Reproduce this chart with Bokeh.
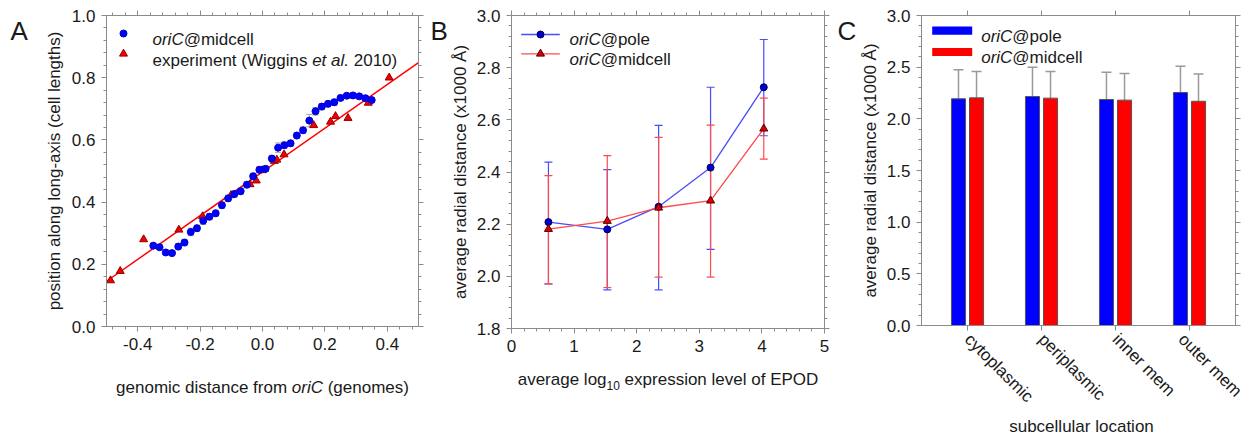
import math
from bokeh.plotting import figure
from bokeh.layouts import row
from bokeh.models import (ColumnDataSource, Whisker, TeeHead, Label, LinearAxis, FixedTicker,
                          PrintfTickFormatter, Range1d)
from bokeh.embed import file_html
from bokeh.resources import INLINE

# ---------------- data ----------------
# Panel A
a_x = [-0.35, -0.33, -0.31, -0.29, -0.27, -0.25, -0.23, -0.21, -0.19, -0.17, -0.15, -0.13,
       -0.11, -0.09, -0.07, -0.05, -0.03, -0.01, 0.01, 0.03, 0.05, 0.07, 0.09, 0.11,
       0.13, 0.15, 0.17, 0.19, 0.21, 0.23, 0.25, 0.27, 0.29, 0.31, 0.33, 0.35]
a_y = [0.260, 0.255, 0.238, 0.236, 0.257, 0.270, 0.304, 0.316, 0.340, 0.353, 0.364, 0.390,
       0.412, 0.426, 0.435, 0.456, 0.483, 0.504, 0.507, 0.540, 0.575, 0.583, 0.589, 0.614,
       0.631, 0.662, 0.692, 0.707, 0.716, 0.721, 0.735, 0.742, 0.743, 0.740, 0.734, 0.728]
a_err = [0.008, 0.008, 0.008, 0.008, 0.010, 0.010, 0.012, 0.010, 0.012, 0.010, 0.010, 0.010,
         0.010, 0.010, 0.010, 0.010, 0.010, 0.010, 0.008, 0.010, 0.015, 0.010, 0.010, 0.010,
         0.010, 0.020, 0.012, 0.010, 0.010, 0.010, 0.008, 0.008, 0.008, 0.008, 0.008, 0.008]
exp_x = [-0.487, -0.456, -0.381, -0.268, -0.192, -0.101, -0.040, -0.020, -0.001, 0.038,
         0.046, 0.069, 0.164, 0.218, 0.234, 0.274, 0.339, 0.406]
exp_y = [0.148, 0.178, 0.280, 0.311, 0.354, 0.422, 0.457, 0.469, 0.502, 0.532,
         0.536, 0.553, 0.647, 0.658, 0.676, 0.670, 0.719, 0.800]
fit_slope = 0.703
fit_intercept = 0.497

# Panel B
b_x = [0.59, 1.53, 2.35, 3.18, 4.03]
pole_y = [2.208, 2.180, 2.267, 2.417, 2.725]
pole_lo = [1.971, 1.948, 1.948, 2.103, 2.539]
pole_hi = [2.438, 2.409, 2.579, 2.725, 2.908]
mid_y = [2.181, 2.212, 2.263, 2.290, 2.566]
mid_lo = [1.971, 1.957, 1.997, 1.997, 2.449]
mid_hi = [2.386, 2.463, 2.533, 2.580, 2.683]

# Panel C
c_categories = ["cytoplasmic", "periplasmic", "inner mem", "outer mem"]
c_pos = [1, 2, 3, 4]
c_pole = [2.194, 2.216, 2.187, 2.255]
c_pole_err = [0.280, 0.284, 0.265, 0.253]
c_mid = [2.203, 2.200, 2.181, 2.170]
c_mid_err = [0.255, 0.258, 0.258, 0.263]

# tick labels
a_xticks = [-0.4, -0.2, 0.0, 0.2, 0.4]
a_yticks = [0.0, 0.2, 0.4, 0.6, 0.8, 1.0]
b_xticks = [0, 1, 2, 3, 4, 5]
b_yticks = [1.8, 2.0, 2.2, 2.4, 2.6, 2.8, 3.0]
c_yticks = [0.0, 0.5, 1.0, 1.5, 2.0, 2.5, 3.0]

# ---------------- styling helpers ----------------
FONT = "Liberation Sans"
TXT = "#1a1a1a"
AXC = "#8a8a8a"
PAGE_H = 436
FS = 17

W = {' ': 278, '(': 333, ')': 333, '.': 278, '@': 1015, '-': 333,
     'A': 667, 'B': 667, 'C': 722, 'D': 722, 'E': 667, 'O': 778, 'P': 667, 'W': 944,
     'a': 556, 'b': 556, 'c': 500, 'd': 556, 'e': 556, 'f': 278, 'g': 556, 'h': 556,
     'i': 222, 'j': 222, 'k': 500, 'l': 222, 'm': 833, 'n': 556, 'o': 556, 'p': 556,
     'q': 556, 'r': 333, 's': 500, 't': 278, 'u': 556, 'v': 500, 'w': 722, 'x': 500,
     'y': 500, 'z': 500}
for d in "0123456789":
    W[d] = 556


def text_w(s, size):
    return sum(W.get(ch, 556) for ch in s) * size / 1000.0


def minor(lo, hi, step):
    n = int(round((hi - lo) / step))
    return [round(lo + i * step, 6) for i in range(n + 1)]


def make_fig(F, x0, x1, xr, yr):
    """Figure whose frame covers the whole canvas; the plot box F (page px) maps xr/yr."""
    kx = (xr[1] - xr[0]) / (F["r"] - F["l"])
    ky = (yr[1] - yr[0]) / (F["b"] - F["t"])
    xs = xr[0] - (F["l"] - x0) * kx
    xe = xr[1] + (x1 - F["r"]) * kx
    ys = yr[0] - (PAGE_H - F["b"]) * ky
    ye = yr[1] + F["t"] * ky
    p = figure(width=x1 - x0, height=PAGE_H, x_range=Range1d(xs, xe), y_range=Range1d(ys, ye),
               output_backend="svg", toolbar_location=None, title=None,
               x_axis_location=None, y_axis_location=None, min_border=0,
               min_border_left=0, min_border_right=0, min_border_top=0, min_border_bottom=0,
               outline_line_color=None, background_fill_color="white",
               border_fill_color="white")
    p.grid.visible = False
    F["x0"] = x0
    return p


def add_axes(p, xr, yr, xticks, xminor, xfmt, yticks, yminor, yfmt, ylabel, ystand, xoverrides=None):
    common = dict(axis_line_color=AXC, major_tick_line_color=AXC, minor_tick_line_color=AXC,
                  major_tick_in=0, major_tick_out=5, minor_tick_in=0, minor_tick_out=3,
                  major_label_text_font=FONT, major_label_text_font_size="%dpx" % FS,
                  major_label_text_color=TXT, major_label_standoff=6)
    for side, loc in (("below", yr[0]), ("above", yr[1])):
        ax = LinearAxis(ticker=FixedTicker(ticks=xticks, minor_ticks=xminor),
                        formatter=PrintfTickFormatter(format=xfmt), fixed_location=loc,
                        bounds=xr, **common)
        if side == "above":
            ax.major_label_text_color = None
        elif xoverrides:
            ax.major_label_overrides = xoverrides
            ax.major_label_orientation = -math.pi / 4
        p.add_layout(ax, side)
    for side, loc in (("left", xr[0]), ("right", xr[1])):
        ax = LinearAxis(ticker=FixedTicker(ticks=yticks, minor_ticks=yminor),
                        formatter=PrintfTickFormatter(format=yfmt), fixed_location=loc,
                        bounds=yr, **common)
        if side == "right":
            ax.major_label_text_color = None
        else:
            ax.axis_label = ylabel
            ax.axis_label_text_font = FONT
            ax.axis_label_text_font_size = "%dpx" % FS
            ax.axis_label_text_font_style = "normal"
            ax.axis_label_text_color = TXT
            ax.axis_label_standoff = ystand
        p.add_layout(ax, side)


def add_label(p, F, text, px, py, size=FS, style="normal", align="left"):
    p.add_layout(Label(x=px - F["x0"], y=PAGE_H - py, x_units="screen", y_units="screen",
                       text=text, text_font=FONT, text_font_size="%spx" % size,
                       text_font_style=style, text_align=align,
                       text_baseline="alphabetic", text_color=TXT))


def rich(p, F, parts, px, py, anchor="left"):
    total = sum(text_w(t, s) for t, st, s, dy in parts)
    x = px - total / 2.0 if anchor == "center" else px
    for t, st, s, dy in parts:
        lead = len(t) - len(t.lstrip(" "))
        core = t.strip(" ")
        if core:
            add_label(p, F, core, x + text_w(" " * lead, s), py + dy, size=s, style=st)
        x += text_w(t, s)


def to_data(F, xr, yr, px, py):
    x = xr[0] + (px - F["l"]) / (F["r"] - F["l"]) * (xr[1] - xr[0])
    y = yr[0] + (F["b"] - py) / (F["b"] - F["t"]) * (yr[1] - yr[0])
    return x, y


# ---------------- Panel A ----------------
FA = dict(l=106, r=418, t=15, b=326)
A_XR, A_YR = (-0.5, 0.5), (0.0, 1.0)
pA = make_fig(FA, 0, 424, A_XR, A_YR)
add_axes(pA, A_XR, A_YR, a_xticks, minor(-0.48, 0.48, 0.04), "%.1f", a_yticks,
         minor(0.0, 1.0, 0.04), "%.1f", "position along long-axis (cell lengths)", 5)

fit_x = [A_XR[0], A_XR[1]]
pA.line(fit_x, [fit_intercept + fit_slope * v for v in fit_x], line_color="#ff0000", line_width=1.5)
srcA = ColumnDataSource(dict(x=a_x, y=a_y, lo=[v - e for v, e in zip(a_y, a_err)],
                             hi=[v + e for v, e in zip(a_y, a_err)]))
pA.add_layout(Whisker(source=srcA, base="x", lower="lo", upper="hi", line_color="#a0a0a0",
                      line_width=1, upper_head=TeeHead(size=6, line_color="#a0a0a0"),
                      lower_head=TeeHead(size=6, line_color="#a0a0a0")))
pA.scatter(exp_x, exp_y, marker="triangle", size=8, fill_color="#ee0000", line_color="#990000")
pA.scatter("x", "y", source=srcA, marker="circle", size=7, fill_color="#0000ff", line_color="#0000cc")

lx, ly1 = to_data(FA, A_XR, A_YR, 123, 33)
_, ly2 = to_data(FA, A_XR, A_YR, 123, 53.3)
pA.scatter([lx], [ly1], marker="circle", size=7, fill_color="#0000ff", line_color="#0000cc")
pA.scatter([lx], [ly2], marker="triangle", size=8, fill_color="#ee0000", line_color="#990000")
rich(pA, FA, [("oriC", "italic", FS, 0), ("@midcell", "normal", FS, 0)], 152, 39)
rich(pA, FA, [("experiment (Wiggins ", "normal", FS, 0), ("et al.", "italic", FS, 0),
              (" 2010)", "normal", FS, 0)], 152, 59.5)
rich(pA, FA, [("genomic distance from ", "normal", FS, 0), ("oriC", "italic", FS, 0),
              (" (genomes)", "normal", FS, 0)], (FA["l"] + FA["r"]) / 2.0, 386.5, anchor="center")
add_label(pA, FA, "A", 10, 30, size=26)

# ---------------- Panel B ----------------
FB = dict(l=511, r=824, t=15, b=328)
B_XR, B_YR = (0.0, 5.0), (1.8, 3.0)
pB = make_fig(FB, 424, 830, B_XR, B_YR)
add_axes(pB, B_XR, B_YR, b_xticks, minor(0.0, 5.0, 0.2), "%d", b_yticks, minor(1.8, 3.0, 0.04),
         "%.1f", "average radial distance (x1000 \u00c5)", 4)

BLUE_L, RED_L = "#4a4aff", "#ff4a4a"
srcP = ColumnDataSource(dict(x=b_x, y=pole_y, lo=pole_lo, hi=pole_hi))
srcM = ColumnDataSource(dict(x=b_x, y=mid_y, lo=mid_lo, hi=mid_hi))
pB.add_layout(Whisker(source=srcP, base="x", lower="lo", upper="hi", line_color=BLUE_L, line_width=1.2,
                      upper_head=TeeHead(size=8, line_color=BLUE_L, line_width=1.2),
                      lower_head=TeeHead(size=8, line_color=BLUE_L, line_width=1.2)))
pB.add_layout(Whisker(source=srcM, base="x", lower="lo", upper="hi", line_color=RED_L, line_width=1.2,
                      upper_head=TeeHead(size=8, line_color=RED_L, line_width=1.2),
                      lower_head=TeeHead(size=8, line_color=RED_L, line_width=1.2)))
pB.line("x", "y", source=srcP, line_color=BLUE_L, line_width=1.3)
pB.line("x", "y", source=srcM, line_color=RED_L, line_width=1.3)
pB.scatter("x", "y", source=srcP, marker="circle", size=7, fill_color="#0000cc", line_color="#000050")
pB.scatter("x", "y", source=srcM, marker="triangle", size=8, fill_color="#dd0000", line_color="#500000")

x1, yb1 = to_data(FB, B_XR, B_YR, 520.7, 34)
x2, yb2 = to_data(FB, B_XR, B_YR, 559.3, 53.3)
xm, _ = to_data(FB, B_XR, B_YR, 540, 34)
pB.line([x1, x2], [yb1, yb1], line_color=BLUE_L, line_width=1.3)
pB.line([x1, x2], [yb2, yb2], line_color=RED_L, line_width=1.3)
pB.scatter([xm], [yb1], marker="circle", size=7, fill_color="#0000cc", line_color="#000050")
pB.scatter([xm], [yb2], marker="triangle", size=8, fill_color="#dd0000", line_color="#500000")
rich(pB, FB, [("oriC", "italic", FS, 0), ("@pole", "normal", FS, 0)], 569, 39.3)
rich(pB, FB, [("oriC", "italic", FS, 0), ("@midcell", "normal", FS, 0)], 569, 59.3)
rich(pB, FB, [("average log", "normal", FS, 0), ("10", "normal", 12, 6.5),
              (" expression level of EPOD", "normal", FS, 0)], (FB["l"] + FB["r"]) / 2.0, 378.5,
     anchor="center")
add_label(pB, FB, "B", 430, 30, size=26)

# ---------------- Panel C ----------------
FC = dict(l=921, r=1235, t=15, b=325)
C_XR, C_YR = (0.378, 4.622), (0.0, 3.0)
pC = make_fig(FC, 830, 1245, C_XR, C_YR)
add_axes(pC, C_XR, C_YR, c_pos, [], "%d", c_yticks, minor(0.0, 3.0, 0.1), "%.1f",
         "average radial distance (x1000 \u00c5)", 4,
         xoverrides={k: v for k, v in zip(c_pos, c_categories)})

BW, OFF = 0.19, 0.122
pole_x = [c - OFF for c in c_pos]
mid_x = [c + OFF for c in c_pos]
srcCP = ColumnDataSource(dict(x=pole_x, top=c_pole, hi=[v + e for v, e in zip(c_pole, c_pole_err)]))
srcCM = ColumnDataSource(dict(x=mid_x, top=c_mid, hi=[v + e for v, e in zip(c_mid, c_mid_err)]))
for src in (srcCP, srcCM):
    pC.add_layout(Whisker(source=src, base="x", lower="top", upper="hi", line_color="#9a9a9a",
                          line_width=1.5, upper_head=TeeHead(size=10, line_color="#9a9a9a", line_width=1.5),
                          lower_head=None))
pC.vbar(x="x", top="top", bottom=0, width=BW, source=srcCP, fill_color="#0000ff", line_color="#555555")
pC.vbar(x="x", top="top", bottom=0, width=BW, source=srcCM, fill_color="#ff0000", line_color="#555555")

ql, qt1 = to_data(FC, C_XR, C_YR, 931.7, 26)
qr, qb1 = to_data(FC, C_XR, C_YR, 971.7, 34.3)
_, qt2 = to_data(FC, C_XR, C_YR, 931.7, 47.5)
_, qb2 = to_data(FC, C_XR, C_YR, 971.7, 55.5)
pC.quad(left=[ql], right=[qr], top=[qt1], bottom=[qb1], fill_color="#0000ff", line_color=None)
pC.quad(left=[ql], right=[qr], top=[qt2], bottom=[qb2], fill_color="#ff0000", line_color=None)
rich(pC, FC, [("oriC", "italic", FS, 0), ("@pole", "normal", FS, 0)], 980.7, 36)
rich(pC, FC, [("oriC", "italic", FS, 0), ("@midcell", "normal", FS, 0)], 980.7, 56.5)
add_label(pC, FC, "subcellular location", (FC["l"] + FC["r"]) / 2.0 + 3, 426, align="center")
add_label(pC, FC, "C", 837, 30, size=26)

layout = row(pA, pB, pC)
open("out.html", "w").write(file_html(layout, INLINE))
